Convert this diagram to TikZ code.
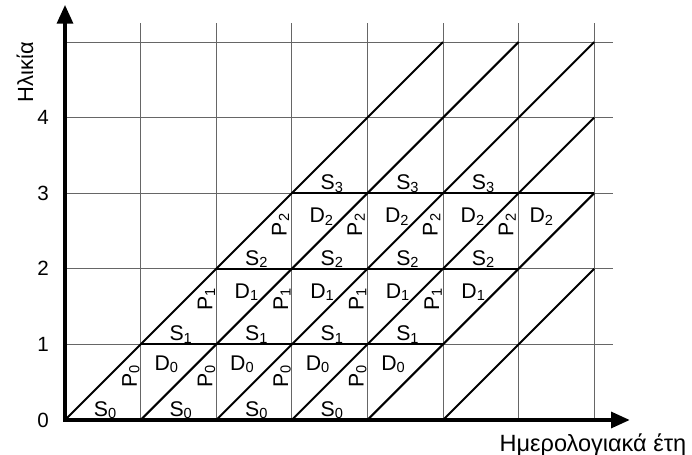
\documentclass[tikz,border=0pt]{standalone}
\usepackage{fontspec}
\setmainfont{Liberation Sans}
\usetikzlibrary{arrows.meta}
\newcommand{\sublab}[2]{#1\raisebox{-2pt}{\fontsize{11}{13}\selectfont #2}}
\begin{document}
\begin{tikzpicture}[x=2cm,y=2cm,
  gridline/.style={draw=black!60, line width=0.6pt},
  thickline/.style={draw=black, line width=1.5pt},
  axisline/.style={draw=black, line width=2.4pt, -{Triangle[length=14pt,width=12pt]}},
  lab/.style={font=\fontsize{16}{19}\selectfont, inner sep=0pt},
  ticklab/.style={font=\fontsize{15.5}{18}\selectfont, inner sep=0pt},
  axtitle/.style={font=\fontsize{17}{20}\selectfont, inner sep=0pt}]
\useasboundingbox (-0.86,-0.463) rectangle (8.294,5.556);
% grid
\foreach \i in {1,...,7} \draw[gridline] (\i,0) -- (\i,5.25);
\foreach \j in {1,...,5} \draw[gridline] (0,\j) -- (7.25,\j);
% diagonals
\draw[thickline] (0,0) -- (5,5);
\draw[thickline] (1,0) -- (6,5);
\draw[thickline] (2,0) -- (7,5);
\draw[thickline] (3,0) -- (7,4);
\draw[thickline] (4,0) -- (7,3);
\draw[thickline] (5,0) -- (7,2);
% horizontal thick lines
\draw[thickline] (1,1) -- (5,1);
\draw[thickline] (2,2) -- (6,2);
\draw[thickline] (3,3) -- (7,3);
% axes
\coordinate (O) at (0,0);
\coordinate (xend) at (7.47,0);
\coordinate (yend) at (0,5.49);
\draw[axisline] ([xshift=-1.2pt]O) -- (xend);
\draw[axisline] ([yshift=-1.2pt]O) -- (yend);
% tick labels
\foreach \k in {0,...,4} \node[ticklab] (t\k) at (-0.29,\k) {\k};
% axis titles
\node[axtitle, rotate=90, font=\fontsize{16.5}{19}\selectfont] (ylab) at (-0.53,4.6) {Ηλικία};
\node[axtitle, anchor=base east, font=\fontsize{17.7}{20}\selectfont] (xlab) at (8.22,-0.42) {Ημερολογιακά έτη};
% S labels
\foreach \c in {0,...,3} \node[lab,anchor=base] at (\c+0.53,0.05) {\sublab{S}{0}};
\foreach \c in {1,...,4} \node[lab,anchor=base] at (\c+0.53,1.05) {\sublab{S}{1}};
\foreach \c in {2,...,5} \node[lab,anchor=base] at (\c+0.53,2.05) {\sublab{S}{2}};
\foreach \c in {3,...,5} \node[lab,anchor=base] at (\c+0.53,3.05) {\sublab{S}{3}};
% D labels
\foreach \c in {1,...,4} \node[lab,anchor=base] at (\c+0.34,0.66) {\sublab{D}{0}};
\foreach \c in {2,...,5} \node[lab,anchor=base] at (\c+0.40,1.61) {\sublab{D}{1}};
\foreach \c in {3,...,5} \node[lab,anchor=base] at (\c+0.39,2.61) {\sublab{D}{2}};
\node[lab,anchor=base] at (6.30,2.61) {\sublab{D}{2}};
% P labels
\foreach \c in {0,...,3} \node[lab,rotate=90,anchor=base west] at (\c+0.95,0.42) {\sublab{P}{0}};
\foreach \c in {1,...,4} \node[lab,rotate=90,anchor=base west] at (\c+0.95,1.44) {\sublab{P}{1}};
\foreach \c in {2,...,5} \node[lab,rotate=90,anchor=base west] at (\c+0.93,2.43) {\sublab{P}{2}};
\end{tikzpicture}
\end{document}
